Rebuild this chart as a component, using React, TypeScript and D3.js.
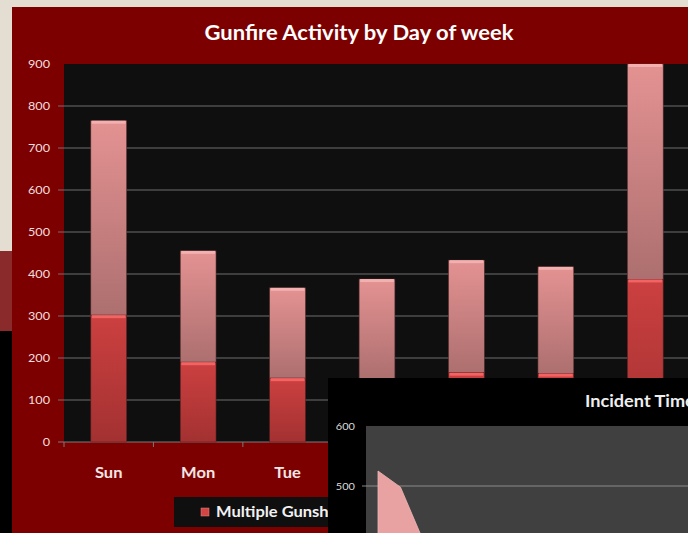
import React from 'react';
import { scaleBand, scaleLinear, scalePoint, area } from 'd3';

const days = ['Sun', 'Mon', 'Tue', 'Wed', 'Thu', 'Fri', 'Sat'];
const multipleGunshots = [302, 190, 152, 150, 165, 163, 387];
const totalGunfire = [765, 455, 367, 388, 433, 417, 900];
const yTicks = [0, 100, 200, 300, 400, 500, 600, 700, 800, 900];

// second chart, mostly hidden behind the page edge
const hours = ['0', '1', '2', '3'];
const incidents = [525, 498, 410, 330];
const insetTicks = [500, 600];

const W = 688;
const H = 533;
const FONT = 'Lato, sans-serif';

// the screenshot is a bit stretched sideways, so text gets a horizontal scale
const T: React.FC<{
  x: number;
  y: number;
  size: number;
  anchor?: 'start' | 'middle' | 'end';
  bold?: boolean;
  fill?: string;
  sx?: number;
  dy?: string;
  children: React.ReactNode;
}> = ({ x, y, size, anchor = 'start', bold, fill = '#fff', sx = 1.1, dy, children }) => (
  <g transform={`translate(${x},${y}) scale(${sx},1)`}>
    <text
      textAnchor={anchor}
      dy={dy}
      fill={fill}
      fontFamily={FONT}
      fontWeight={bold ? 'bold' : 'normal'}
      fontSize={size}
    >
      {children}
    </text>
  </g>
);

export default function App() {
  const x = scaleBand<string>()
    .domain(days)
    .range([64, 690])
    .paddingInner(0.6)
    .paddingOuter(0.3);
  const y = scaleLinear().domain([0, 900]).range([442, 64]);

  const ix = scalePoint<string>().domain(hours).range([378, 445.5]);
  const iy = scaleLinear().domain([0, 600]).range([786, 426]);
  const incidentArea = area<number>()
    .x((_, i) => ix(hours[i]) as number)
    .y0(iy(0))
    .y1(d => iy(d));

  return (
    <svg
      width={W}
      height={H}
      style={{ position: 'fixed', left: 0, top: 0, display: 'block' }}
    >
      <defs>
        <linearGradient id='topSeg' x1='0' y1='0' x2='0' y2='1'>
          <stop offset='0%' stopColor='#e49292' />
          <stop offset='100%' stopColor='#ad6f6f' />
        </linearGradient>
        <linearGradient id='botSeg' x1='0' y1='0' x2='0' y2='1'>
          <stop offset='0%' stopColor='#cc4040' />
          <stop offset='100%' stopColor='#a33131' />
        </linearGradient>
      </defs>

      {/* page background */}
      <rect x={0} y={0} width={W} height={H} fill='#e3ddd2' />
      <rect x={0} y={251} width={12} height={81} fill='#8a2a2a' />
      <rect x={0} y={331} width={12} height={H - 331} fill='#000' />

      {/* main chart panel */}
      <rect x={12} y={7} width={W - 12} height={H - 7} fill='#7d0000' />
      <T x={359} y={40} size={20} anchor='middle' bold>
        Gunfire Activity by Day of week
      </T>
      <rect x={64} y={64} width={W - 64} height={378} fill='#0f0f0f' />

      {yTicks.map(t => (
        <g key={t}>
          {t > 0 && t < 900 && (
            <line x1={58} x2={W} y1={y(t)} y2={y(t)} stroke='#6f6f6f' strokeWidth={1} />
          )}
          <T x={50} y={y(t)} dy='0.35em' size={11.5} anchor='end' fill='#f2dede'>
            {t}
          </T>
        </g>
      ))}
      <line x1={58} x2={W} y1={y(0)} y2={y(0)} stroke='#7a7a7a' />
      {days.map((d, i) => {
        const bx = 64 + i * x.step();
        return <line key={d} x1={bx} x2={bx} y1={442} y2={447} stroke='#7a7a7a' />;
      })}

      {days.map((d, i) => {
        const bx = x(d) as number;
        const bw = x.bandwidth();
        const yt = y(totalGunfire[i]);
        const ym = y(multipleGunshots[i]);
        return (
          <g key={d}>
            <rect x={bx} y={yt} width={bw} height={ym - yt} fill='url(#topSeg)' stroke='#5a3030' strokeWidth={0.6} />
            <rect x={bx + 1} y={yt} width={bw - 2} height={3} fill='#f2b0b0' />
            <rect x={bx} y={ym} width={bw} height={y(0) - ym} fill='url(#botSeg)' stroke='#5a2020' strokeWidth={0.6} />
            <rect x={bx + 1} y={ym} width={bw - 2} height={3} fill='#f26464' />
            <T x={bx + bw / 2} y={478} size={15} anchor='middle' bold fill='#f4e6e6'>
              {d}
            </T>
          </g>
        );
      })}

      {/* legend */}
      <rect x={174} y={497} width={170} height={30} fill='#0f0f0f' />
      <rect x={201} y={508} width={8} height={8} fill='#d24545' stroke='#f08080' strokeWidth={0.5} />
      <T x={216} y={517} size={15} bold fill='#f2f2f2'>
        Multiple Gunshots
      </T>

      {/* overlapping inset chart */}
      <rect x={328} y={378} width={W - 328} height={H - 378} fill='#000' />
      <T x={585} y={407} size={16.5} bold fill='#eee'>
        Incident Time of Day
      </T>
      <rect x={366} y={426} width={W - 366} height={H - 426} fill='#404040' />
      {insetTicks.map(t => (
        <g key={t}>
          {t < 600 && (
            <line x1={362} x2={W} y1={iy(t)} y2={iy(t)} stroke='#8a8a8a' />
          )}
          <T x={355} y={iy(t)} dy='0.35em' size={10} anchor='end' fill='#ddd'>
            {t}
          </T>
        </g>
      ))}
      <path d={incidentArea(incidents) ?? ''} fill='#e8a2a2' stroke='#f0b8b8' strokeWidth={0.8} />
    </svg>
  );
}
